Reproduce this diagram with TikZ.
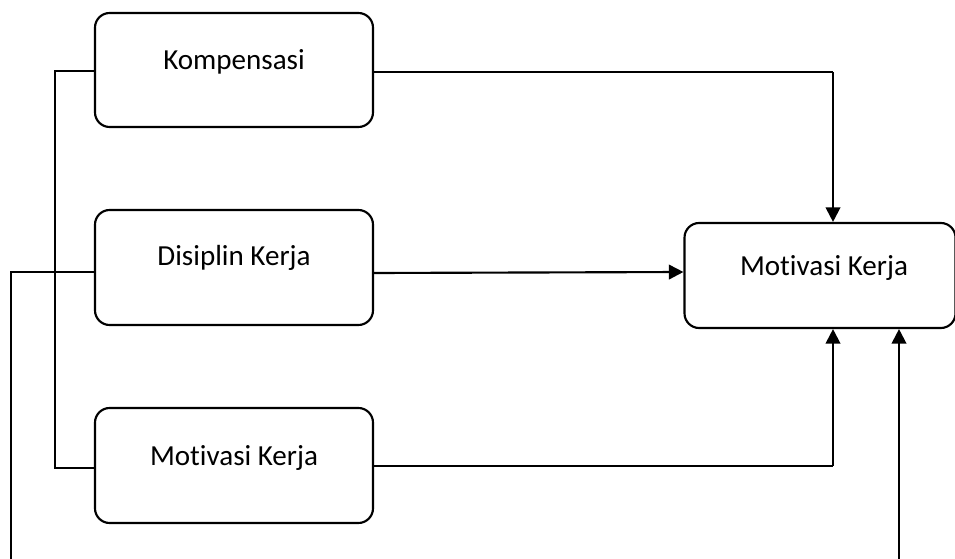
\documentclass[tikz,border=0pt]{standalone}
\usepackage{fontspec}
\setmainfont{Carlito}[Ligatures=NoCommon]
\usetikzlibrary{arrows.meta}
\begin{document}
\begin{tikzpicture}[x=0.75pt,y=-0.75pt,
  box/.style={draw=black,line width=1.6pt,rounded corners=11pt},
  lbl/.style={font=\fontsize{21.8pt}{24pt}\selectfont,inner sep=0pt,anchor=center},
  thin/.style={line width=0.8pt},
  thick/.style={line width=1.6pt},
  arr/.style={-{Triangle[length=11pt,width=11pt]}}]
\useasboundingbox (0,0) rectangle (955,559);
% boxes
\node[box,minimum width=278*0.75pt,minimum height=114*0.75pt,inner sep=0pt] (komp) at (234,70) {};
\node[box,minimum width=278*0.75pt,minimum height=115*0.75pt,inner sep=0pt] (disi) at (234,267.5) {};
\node[box,minimum width=278*0.75pt,minimum height=115*0.75pt,inner sep=0pt] (motl) at (234,465.5) {};
\node[box,minimum width=271*0.75pt,minimum height=105*0.75pt,inner sep=0pt] (motr) at (820,275.5) {};
% texts
\node[lbl] (tkomp) at (234,62) {Kompensasi};
\node[lbl] (tdisi) at (234,258) {Disiplin Kerja};
\node[lbl] (tmotl) at (234,458) {Motivasi Kerja};
\node[lbl] (tmotr) at (824,268) {Motivasi Kerja};
% coordinates
\coordinate (bl1) at (55,71);
\coordinate (bl2) at (55,468);
\coordinate (dl1) at (11,272);
\coordinate (dl2) at (11,559);
\coordinate (kr) at (833,72);
\coordinate (br) at (833,466);
\coordinate (rb) at (899,559);
% left bracket lines
\draw[thin] (komp.west |- bl1) -- (bl1) -- (bl2) -- (motl.west |- bl2);
\draw[thin] (disi.west |- dl1) -- (dl1) -- (dl2);
% connectors to right box
\draw[thin] (komp.east |- kr) -- (kr);
\draw[thick,arr] (kr) -- (kr |- motr.north);
\draw[thick,arr] (disi.east |- 0,273) -- (motr.west |- 0,272);
\draw[thin] (motl.east |- br) -- (br);
\draw[thick,arr] (br) -- (br |- motr.south);
\draw[thick,arr] (rb) -- (rb |- motr.south);
\end{tikzpicture}
\end{document}
